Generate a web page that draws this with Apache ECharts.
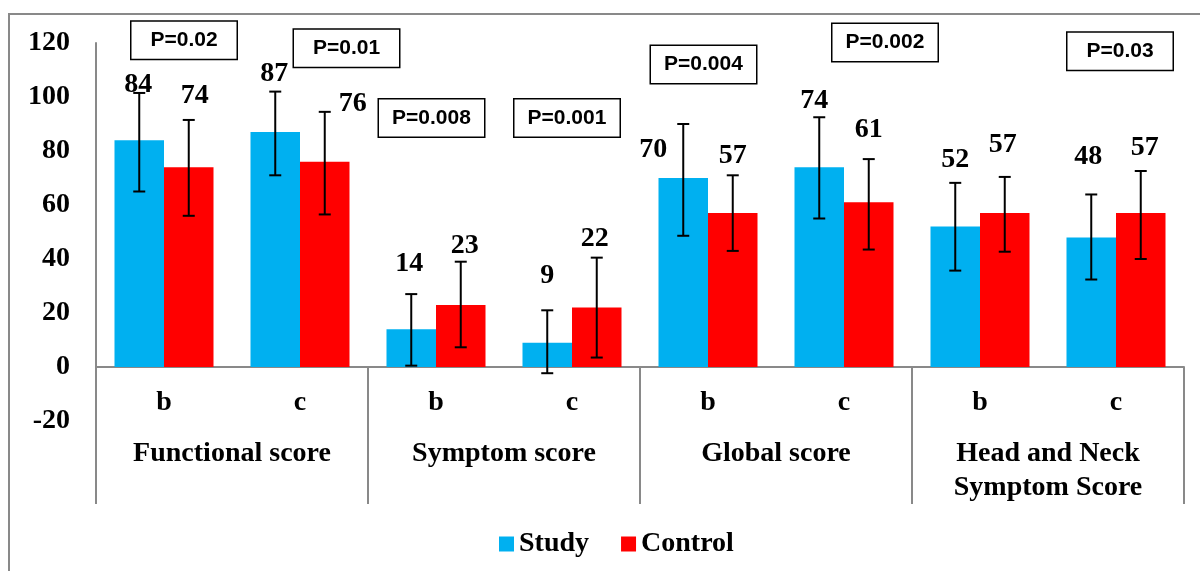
<!DOCTYPE html>
<html>
<head>
<meta charset="utf-8">
<script src="https://cdn.jsdelivr.net/npm/echarts@6/dist/echarts.min.js"></script>
<style>
html,body{margin:0;padding:0;background:#fff;}
#chart{width:1200px;height:571px;}
</style>
</head>
<body>
<div id="chart"></div>
<script>
// ---- data ----
const categories = ['b', 'c', 'b', 'c', 'b', 'c', 'b', 'c'];
const groups = ['Functional score', 'Symptom score', 'Global score', 'Head and Neck\nSymptom Score'];
const seriesNames = ['Study', 'Control'];
const study = [84, 87, 14, 9, 70, 74, 52, 48];
const control = [74, 76, 23, 22, 57, 61, 57, 57];
const studyLow = [65, 71, 0.5, -2.3, 48.6, 55, 35.7, 32.4];
const studyHigh = [101.5, 102, 27, 21, 90, 92.5, 68.2, 63.9];
const controlLow = [56, 56.5, 7.3, 3.5, 43, 43.5, 42.7, 40];
const controlHigh = [91.5, 94.5, 39, 40.5, 71, 77, 70.4, 72.6];
const pValues = ['P=0.02', 'P=0.01', 'P=0.008', 'P=0.001', 'P=0.004', 'P=0.002', null, 'P=0.03'];

// ---- layout / style (not data) ----
const BLUE = '#00B0F0', RED = '#FF0000', GRAY = '#898989';
const SERIF = '"Liberation Serif", "Times New Roman", serif';
const SANS = '"Liberation Sans", Arial, sans-serif';
// value label nudges [dx, dy] relative to bar centre / error-bar top (px)
const studyLabelNudge = [[-1,-8],[-1,-18],[-2,-30],[0,-35],[-30,26],[-5,-16],[0,-23],[-3,-38]];
const controlLabelNudge = [[6,-24],[28,-8],[4,-16],[-2,-19],[0,-20],[0,-29],[-2,-32],[4,-23]];
// p-value box anchors: y in axis units, dx in px
const pBoxY = [121, 118.1, 92.2, 92.2, 112, 120.2, null, 116.9];
const pBoxDx = [20, 46.5, -4.5, -5, -4.5, 41, 0, 4];

function errSeries(name, low, high, vals, nudge, side) {
  return {
    name: name + ' err',
    type: 'custom',
    xAxisIndex: 0,
    z: 5,
    silent: true,
    data: vals.map((v, i) => [i, low[i], high[i], v]),
    renderItem: function (params, api) {
      const i = api.value(0);
      const bw = api.size([1, 0])[0] * 0.182;
      const cx = api.coord([i, 0])[0] + side * bw;
      const yl = api.coord([i, api.value(1)])[1];
      const yh = api.coord([i, api.value(2)])[1];
      const cap = 6;
      const ls = { stroke: '#000', lineWidth: 2 };
      const nd = nudge[i];
      return {
        type: 'group',
        children: [
          { type: 'line', shape: { x1: cx, y1: yh, x2: cx, y2: yl }, style: ls },
          { type: 'line', shape: { x1: cx - cap, y1: yh, x2: cx + cap, y2: yh }, style: ls },
          { type: 'line', shape: { x1: cx - cap, y1: yl, x2: cx + cap, y2: yl }, style: ls },
          { type: 'text', x: cx + nd[0], y: yh + nd[1],
            style: { text: String(api.value(3)), align: 'center', verticalAlign: 'middle',
                     fill: '#000', font: 'bold 28px ' + SERIF } }
        ]
      };
    }
  };
}

const chart = echarts.init(document.getElementById('chart'), null, { renderer: 'canvas' });
const option = {
  animation: false,
  backgroundColor: '#fff',
  grid: { left: 96, right: 16, top: 43, bottom: 150, containLabel: false },
  legend: {
    data: seriesNames,
    left: 494, top: 525,
    itemWidth: 15, itemHeight: 15, itemGap: 32,
    icon: 'rect',
    textStyle: { fontFamily: SERIF, fontWeight: 'bold', fontSize: 28, color: '#000' }
  },
  graphic: [{
    type: 'rect', silent: true, z: -10,
    shape: { x: 9, y: 14, width: 1200, height: 600 },
    style: { fill: 'none', stroke: GRAY, lineWidth: 2 }
  }],
  xAxis: [{
    type: 'category', data: categories, position: 'bottom',
    axisLine: { show: true, onZero: true, lineStyle: { color: GRAY, width: 2 } },
    axisTick: { show: false },
    axisLabel: { margin: -32, interval: 0, color: '#000', fontFamily: SERIF, fontWeight: 'bold', fontSize: 28 },
    splitLine: { show: false }
  }, {
    type: 'category', data: groups, position: 'bottom', offset: -54,
    axisLine: { show: false, onZero: false },
    axisTick: { show: true, length: 137, interval: 0, lineStyle: { color: GRAY, width: 2 } },
    axisLabel: { margin: 70, interval: 0, color: '#000', fontFamily: SERIF, fontWeight: 'bold',
                 fontSize: 28, lineHeight: 34 },
    splitLine: { show: false }
  }],
  yAxis: {
    type: 'value', min: -20, max: 120, interval: 20,
    axisLine: { show: true, lineStyle: { color: GRAY, width: 2 } },
    axisTick: { show: false },
    splitLine: { show: false },
    axisLabel: { margin: 26, color: '#000', fontFamily: SERIF, fontWeight: 'bold', fontSize: 28 }
  },
  series: [
    { name: 'Study', type: 'bar', xAxisIndex: 0, data: study, barWidth: '36.4%', barGap: '0%',
      itemStyle: { color: BLUE } },
    { name: 'Control', type: 'bar', xAxisIndex: 0, data: control, barWidth: '36.4%', barGap: '0%',
      itemStyle: { color: RED } },
    errSeries('Study', studyLow, studyHigh, study, studyLabelNudge, -1),
    errSeries('Control', controlLow, controlHigh, control, controlLabelNudge, 1),
    {
      name: 'p', type: 'scatter', xAxisIndex: 0, symbolSize: 0, silent: true, clip: false, z: 6,
      itemStyle: { opacity: 1 },
      data: pValues.map((p, i) => p ? { value: [i, pBoxY[i]], label: { offset: [pBoxDx[i], 0] }, p: p } : null)
                   .filter(d => d),
      label: {
        show: true, position: 'inside', opacity: 1,
        formatter: (prm) => prm.data.p,
        fontFamily: SANS, fontWeight: 'bold', fontSize: 21, color: '#000',
        backgroundColor: '#fff', borderColor: '#000', borderWidth: 1.5,
        padding: [8, 13, 8, 13], width: 79, align: 'center', lineHeight: 21
      }
    }
  ]
};
chart.setOption(option);
</script>
</body>
</html>
